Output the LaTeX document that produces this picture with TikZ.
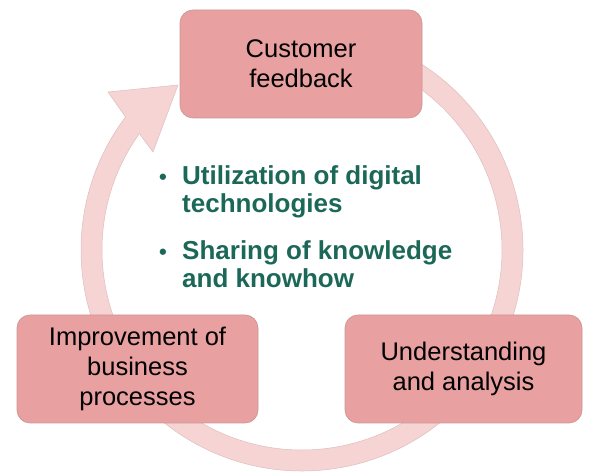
\documentclass[tikz,border=0pt]{standalone}
\usepackage{fontspec}
\setmainfont{Liberation Sans}
\usetikzlibrary{calc}
\definecolor{boxfill}{RGB}{233,160,161}
\definecolor{boxedge}{RGB}{205,150,150}
\definecolor{ringfill}{RGB}{246,212,212}
\definecolor{ringedge}{RGB}{220,190,190}
\definecolor{bulgreen}{RGB}{28,104,88}
\begin{document}
\begin{tikzpicture}[x=1pt,y=1pt,
  stagebox/.style={draw=boxedge, line width=0.7pt, fill=boxfill, rounded corners=13pt,
    align=center, inner sep=0pt, font=\fontsize{25.5}{30}\selectfont, text=black},
  bultext/.style={anchor=base west, align=left, inner sep=0pt, text=bulgreen,
    font=\bfseries\fontsize{26}{28}\selectfont},
  bulmark/.style={anchor=base, inner sep=0pt, text=bulgreen,
    font=\bfseries\fontsize{22}{28}\selectfont},
  ring/.style={fill=ringfill, draw=ringedge, line width=0.5pt}]
\useasboundingbox (0,0) rectangle (592,473);
\coordinate (c) at (302,223);
\coordinate (h1) at (108,381);
\coordinate (h2) at (178,388);
\coordinate (h3) at (153,321);
% circular arrow
\filldraw[ring] ($(c)+(96:221)$) arc[start angle=96, end angle=-217, radius=221]
  -- (h1) -- (h2) -- (h3) -- ($(c)+(144.4:200)$)
  arc[start angle=-215.6, end angle=96, radius=200] -- cycle;
% stage boxes
\node[stagebox, minimum width=242pt, minimum height=108pt] (fb) at (301,409)
  {Customer\\feedback};
\node[stagebox, minimum width=241pt, minimum height=108pt] (ip) at (137.5,104)
  {Improvement of\\business\\processes};
\node[stagebox, minimum width=237pt, minimum height=108pt] (ua) at (463.5,104)
  {Understanding\\and analysis};
% bullet list
\node[bulmark] (m1) at (163,288) {•};
\node[bultext] (t1) at (182,260) {Utilization of digital\\technologies};
\node[bulmark] (m2) at (163,213) {•};
\node[bultext] (t2) at (182,185) {Sharing of knowledge\\and knowhow};
\end{tikzpicture}
\end{document}
